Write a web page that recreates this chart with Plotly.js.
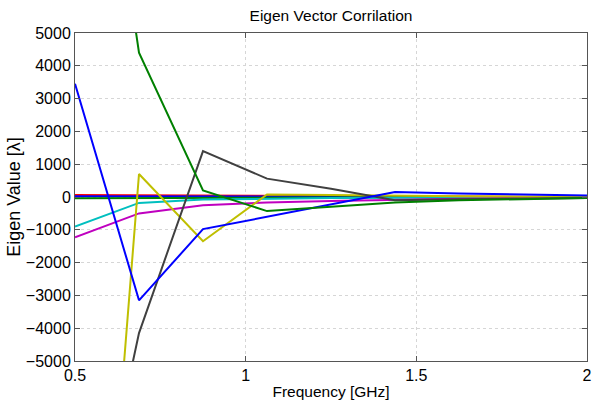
<!DOCTYPE html>
<html><head><meta charset="utf-8">
<script src="https://cdn.plot.ly/plotly-3.0.1.min.js"></script>
<style>html,body{margin:0;padding:0;background:#fff}#chart{width:594px;height:401px}</style>
</head><body><div id="chart"></div>
<script>
const freq = [0.5, 0.6875, 0.875, 1.0625, 1.25, 1.4375, 1.625, 1.8125, 2.0];
const eigBlue1 = [3450, -3150, -980, -600, -225, 150, 110, 70, 45];
const eigGreen1 = [17600, 4400, 200, -430, -300, -170, -100, -60, -30];
const eigRed = [60, 50, 40, 30, 20, 10, 5, 0, 0];
const eigCyan = [-900, -180, -80, -50, -30, -20, -10, -5, 0];
const eigMagenta = [-1230, -500, -250, -170, -120, -80, -50, -30, -20];
const eigYellow = [-23900, 700, -1350, 80, 60, 30, 20, 10, 5];
const eigBlack = [-13250, -4150, 1400, 560, 250, -100, -70, -50, -30];
const eigBlue2 = [20, 15, 10, 10, 5, 5, 0, 0, 0];
const eigGreen2 = [-40, -30, -25, -20, -15, -10, -10, -5, -5];

const series = [
  {y: eigRed, c: '#ff0000'},
  {y: eigBlue2, c: '#0000ff'},
  {y: eigGreen2, c: '#008000'},
  {y: eigCyan, c: '#00bfbf'},
  {y: eigMagenta, c: '#bf00bf'},
  {y: eigYellow, c: '#bfbf00'},
  {y: eigBlack, c: '#404040'},
  {y: eigBlue1, c: '#0000ff'},
  {y: eigGreen1, c: '#008000'}
];
const traces = series.map(s => ({x: freq, y: s.y, type: 'scatter', mode: 'lines',
  line: {color: s.c, width: 2}, hoverinfo: 'skip', showlegend: false}));

const fam = 'Liberation Sans, Arial, sans-serif';
const layout = {
  width: 594, height: 401,
  margin: {l: 75, r: 7, t: 33, b: 40},
  paper_bgcolor: '#fff', plot_bgcolor: '#fff',
  font: {family: fam, size: 16, color: '#000'},
  title: {text: 'Eigen Vector Corrilation', font: {family: fam, size: 15.5, color: '#000'},
    xref: 'paper', x: 0.5, xanchor: 'center', yref: 'container', y: 0.96, yanchor: 'middle'},
  xaxis: {range: [0.5, 2], tickvals: [0.5, 1, 1.5, 2], ticktext: ['0.5', '1', '1.5', '2'],
    tickfont: {family: fam, size: 16, color: '#000'},
    showgrid: true, gridcolor: '#d6d6d6', griddash: 'dot', gridwidth: 1,
    showline: true, linecolor: '#555', linewidth: 1, mirror: 'ticks',
    ticks: 'inside', ticklen: 5, tickcolor: '#555', zeroline: false,
    title: {text: 'Frequency [GHz]', font: {family: fam, size: 15.5, color: '#000'}, standoff: 2}},
  yaxis: {range: [-5000, 5000], dtick: 1000, tick0: 0,
    tickfont: {family: fam, size: 16, color: '#000'},
    showgrid: true, gridcolor: '#d6d6d6', griddash: 'dot', gridwidth: 1,
    showline: true, linecolor: '#555', linewidth: 1, mirror: 'ticks',
    ticks: 'inside', ticklen: 5, tickcolor: '#555', zeroline: false,
    title: {text: 'Eigen Value [λ]', font: {family: fam, size: 18, color: '#000'}, standoff: 0}}
};
Plotly.newPlot('chart', traces, layout, {staticPlot: true, displayModeBar: false});
</script></body></html>
